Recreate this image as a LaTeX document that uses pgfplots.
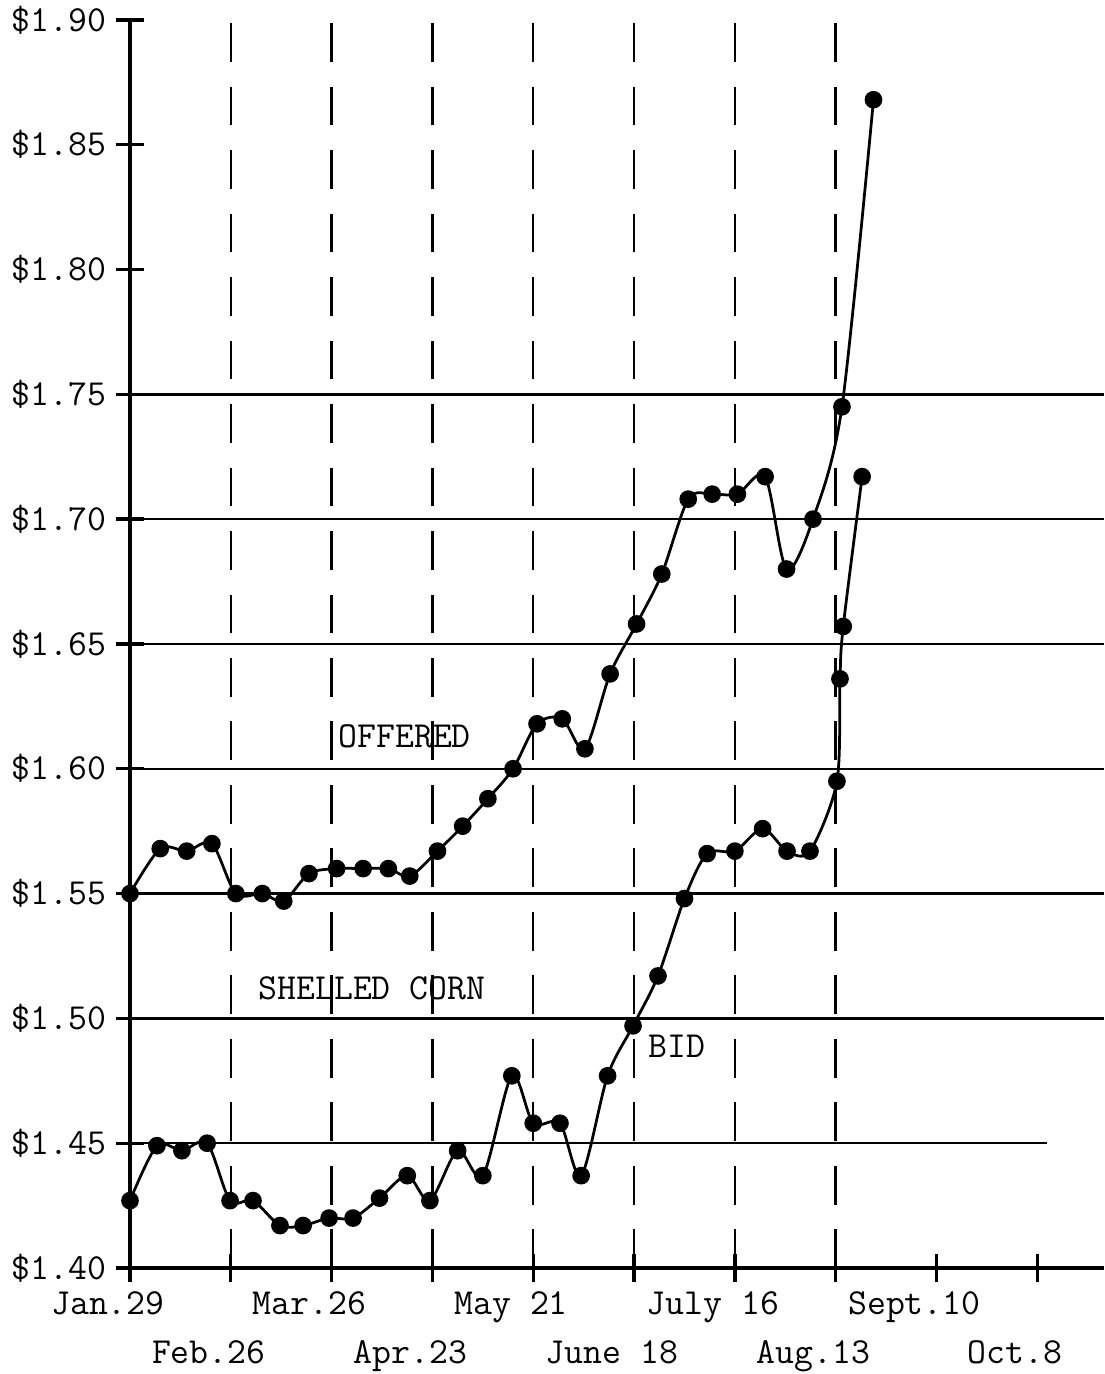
\documentclass[border=0pt]{standalone}
\usepackage{fontspec}
\usepackage{pgfplots}
\pgfplotsset{compat=1.18}
\newcommand{\tw}{\fontsize{13.3}{16}\selectfont\ttfamily}
\begin{document}
\begin{tikzpicture}
\begin{axis}[
  scale only axis, width=352.9pt, height=452.2pt,
  xmin=0, xmax=38.65, ymin=1.40, ymax=1.90,
  axis lines=left, axis line style={-, line width=1.3pt},
  xtick={0,4,8,12,16,20,24,28,32,36},
  xticklabels={Jan.29,{\mbox{}\\[10pt]Feb.26},Mar.26,{\mbox{}\\[10pt]Apr.23},May 21,{\mbox{}\\[10pt]June 18},July 16,{\mbox{}\\[10pt]Aug.13},Sept.10,{\mbox{}\\[10pt]Oct.8}},
  xticklabel style={font=\tw, align=center, xshift=-8pt, anchor=north},
  ytick={1.40,1.45,1.50,1.55,1.60,1.65,1.70,1.75,1.80,1.85,1.90},
  yticklabels={\$1.40,\$1.45,\$1.50,\$1.55,\$1.60,\$1.65,\$1.70,\$1.75,\$1.80,\$1.85,\$1.90},
  yticklabel style={font=\tw},
  tick align=center, major tick length=10pt, tick style={line width=1.2pt, black},
  extra x ticks={4,8,12,16,20,24,28}, extra x tick labels={},
  extra x tick style={grid=major, major tick length=0pt,
     major grid style={dash pattern=on 14pt off 9pt, line width=0.9pt, black}},
  extra y ticks={1.50,1.55,1.60,1.65,1.70,1.75}, extra y tick labels={},
  extra y tick style={grid=major, major grid style={line width=0.9pt, black}},
  clip=false,
]
% OFFERED
\addplot[black, line width=1pt, smooth, mark=*, mark size=2.7pt] coordinates {
(0,1.55) (1.2,1.568) (2.25,1.567) (3.25,1.57) (4.2,1.55) (5.25,1.55) (6.1,1.547)
(7.1,1.558) (8.2,1.56) (9.25,1.56) (10.25,1.56) (11.1,1.557) (12.2,1.567) (13.2,1.577)
(14.2,1.588) (15.2,1.60) (16.15,1.618) (17.15,1.62) (18.05,1.608) (19.05,1.638)
(20.1,1.658) (21.1,1.678) (22.15,1.708) (23.1,1.71) (24.1,1.71) (25.2,1.717)
(26.05,1.68) (27.1,1.70) (28.25,1.745) (29.5,1.868)};
% BID
\addplot[black, line width=1pt, smooth, mark=*, mark size=2.7pt] coordinates {
(0,1.427) (1.07,1.449) (2.06,1.447) (3.06,1.45) (3.97,1.427) (4.88,1.427) (5.95,1.417)
(6.87,1.417) (7.9,1.42) (8.85,1.42) (9.9,1.428) (11.0,1.437) (11.9,1.427) (13.0,1.447)
(14.0,1.437) (15.15,1.477) (16.0,1.458) (17.06,1.458) (17.9,1.437) (18.95,1.477)
(19.96,1.497) (20.95,1.517) (22.0,1.548) (22.9,1.566) (24.0,1.567) (25.1,1.576)
(26.07,1.567) (26.98,1.567) (28.05,1.595) (28.17,1.636) (28.3,1.657) (29.05,1.717)};
\draw[line width=0.9pt] (axis cs:0,1.45) -- (axis cs:36.4,1.45);
\node[font=\tw] at (axis cs:10.9,1.613) {OFFERED};
\node[font=\tw] at (axis cs:9.6,1.512) {SHELLED CORN};
\node[font=\tw] at (axis cs:21.7,1.489) {BID};
\end{axis}
\pgfresetboundingbox
\path[use as bounding box] ([xshift=-47.1pt,yshift=-38.4pt]current axis.south west) rectangle ([yshift=7.2pt]current axis.north east);
\end{tikzpicture}
\end{document}
